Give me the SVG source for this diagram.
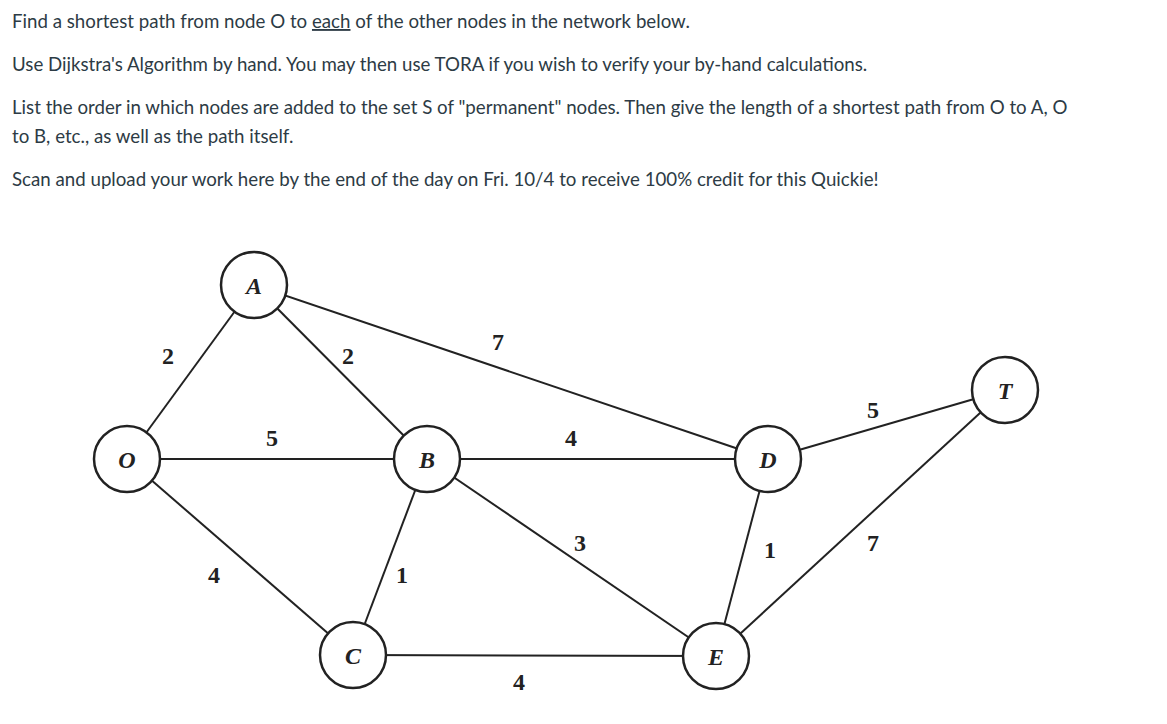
<svg xmlns="http://www.w3.org/2000/svg" width="1167" height="724" viewBox="0 0 1167 724">
<style>
.t{font-family:Lato,"Liberation Sans",sans-serif;font-size:18.7px;fill:#2d3b45}
.n{fill:#fff;stroke:#222;stroke-width:2.5}
.l{font-family:"Liberation Serif",serif;font-weight:bold;font-style:italic;font-size:24px;fill:#222;text-anchor:middle}
.w{font-family:"Liberation Serif",serif;font-weight:bold;font-size:24px;fill:#222;text-anchor:middle}
#edges line{stroke:#222;stroke-width:2}
</style>
<rect width="1167" height="724" fill="#fff"/>
<text class="t" x="12" y="28">Find a shortest path from node O to <tspan text-decoration="underline">each</tspan> of the other nodes in the network below.</text>
<text class="t" x="12" y="71">Use Dijkstra's Algorithm by hand. You may then use TORA if you wish to verify your by-hand calculations.</text>
<text class="t" x="12" y="114">List the order in which nodes are added to the set S of "permanent" nodes. Then give the length of a shortest path from O to A, O</text>
<text class="t" x="12" y="143">to B, etc., as well as the path itself.</text>
<text class="t" x="12" y="186">Scan and upload your work here by the end of the day on Fri. 10/4 to receive 100% credit for this Quickie!</text>
<g id="edges">
<line x1="127" y1="459" x2="254" y2="285"/>
<line x1="127" y1="459" x2="427" y2="459"/>
<line x1="127" y1="459" x2="353" y2="655"/>
<line x1="254" y1="285" x2="427" y2="459"/>
<line x1="254" y1="285" x2="768" y2="459"/>
<line x1="427" y1="459" x2="768" y2="459"/>
<line x1="427" y1="459" x2="353" y2="655"/>
<line x1="427" y1="459" x2="716" y2="656"/>
<line x1="353" y1="655" x2="716" y2="656"/>
<line x1="768" y1="459" x2="716" y2="656"/>
<line x1="768" y1="459" x2="1005" y2="390"/>
<line x1="716" y1="656" x2="1005" y2="390"/>
</g>
<g id="weights">
<text class="w" x="168" y="364">2</text>
<text class="w" x="348" y="364">2</text>
<text class="w" x="498" y="350">7</text>
<text class="w" x="272" y="446">5</text>
<text class="w" x="571" y="446">4</text>
<text class="w" x="214" y="583">4</text>
<text class="w" x="402" y="583">1</text>
<text class="w" x="580" y="551">3</text>
<text class="w" x="519" y="690">4</text>
<text class="w" x="770" y="558">1</text>
<text class="w" x="873" y="418">5</text>
<text class="w" x="873" y="551">7</text>
</g>
<g id="A"><circle class="n" cx="254" cy="285" r="33"/><text class="l" x="254" y="294">A</text></g>
<g id="O"><circle class="n" cx="127" cy="459" r="33"/><text class="l" x="127" y="468">O</text></g>
<g id="B"><circle class="n" cx="427" cy="459" r="33"/><text class="l" x="427" y="468">B</text></g>
<g id="D"><circle class="n" cx="768" cy="459" r="33"/><text class="l" x="768" y="468">D</text></g>
<g id="T"><circle class="n" cx="1005" cy="390" r="33"/><text class="l" x="1005" y="399">T</text></g>
<g id="C"><circle class="n" cx="353" cy="655" r="33"/><text class="l" x="353" y="664">C</text></g>
<g id="E"><circle class="n" cx="716" cy="656" r="33"/><text class="l" x="716" y="665">E</text></g>
</svg>
